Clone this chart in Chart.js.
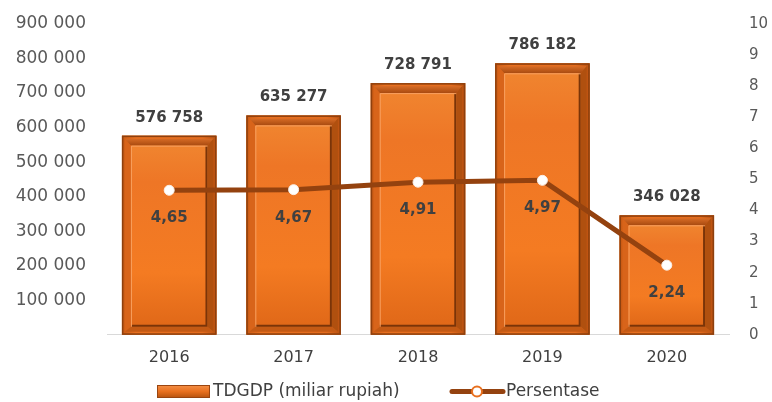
<!DOCTYPE html>
<html><head><meta charset="utf-8">
<script src="https://cdn.jsdelivr.net/npm/chart.js@4/dist/chart.umd.min.js"></script>
<style>html,body{margin:0;padding:0;background:#fff}#wrap{width:772px;height:402px}</style>
</head><body><div id="wrap"><canvas id="c" width="772" height="402"></canvas></div>
<script>
const categories = ['2016','2017','2018','2019','2020'];
const tdgdpValues = [576758, 635277, 728791, 786182, 346028];
const pctValues = [4.65, 4.67, 4.91, 4.97, 2.24];
const leftTicks = [0,100000,200000,300000,400000,500000,600000,700000,800000,900000];
const rightTicks = [0,1,2,3,4,5,6,7,8,9,10];
const seriesNames = ['TDGDP (miliar rupiah)', 'Persentase'];

const FONT = 'DejaVu Sans';
const fmtThousands = v => String(v).replace(/\B(?=(\d{3})+(?!\d))/g, ' ');
const fmtPct = v => v.toFixed(2).replace('.', ',');

const bevelPlugin = {
  id: 'bevel',
  afterDatasetDraw(chart, args){
    if (args.index !== 0) return;
    const ctx = chart.ctx;
    args.meta.data.forEach(el => {
      const w = el.width, l = el.x - w/2, r = el.x + w/2, t = el.y, b = el.base;
      ctx.save();
      let g = ctx.createLinearGradient(l,0,r,0);
      g.addColorStop(0,'#C95A14'); g.addColorStop(0.15,'#E87020'); g.addColorStop(0.85,'#E46C1E'); g.addColorStop(1,'#B85010');
      ctx.fillStyle = g; ctx.fillRect(l,t,w,b-t);
      const il = l+9, ir = r-9, it = t+10, ib = b-8;
      let tg = ctx.createLinearGradient(0,t,0,it);
      tg.addColorStop(0,'#EC7A2E'); tg.addColorStop(1,'#A84A10');
      ctx.fillStyle = tg;
      ctx.beginPath(); ctx.moveTo(l+3,t+3); ctx.lineTo(r-3,t+3); ctx.lineTo(ir,it); ctx.lineTo(il,it); ctx.closePath(); ctx.fill();
      ctx.fillStyle = '#D8641A';
      ctx.beginPath(); ctx.moveTo(l+3,t+3); ctx.lineTo(il,it); ctx.lineTo(il,ib); ctx.lineTo(l+3,b-3); ctx.closePath(); ctx.fill();
      ctx.fillStyle = '#B0500F';
      ctx.beginPath(); ctx.moveTo(r-3,t+3); ctx.lineTo(ir,it); ctx.lineTo(ir,ib); ctx.lineTo(r-3,b-3); ctx.closePath(); ctx.fill();
      ctx.fillStyle = '#C45A14';
      ctx.beginPath(); ctx.moveTo(l+3,b-3); ctx.lineTo(il,ib); ctx.lineTo(ir,ib); ctx.lineTo(r-3,b-3); ctx.closePath(); ctx.fill();
      let fg = ctx.createLinearGradient(0,it,0,ib);
      fg.addColorStop(0,'#F0842F'); fg.addColorStop(0.2,'#EE7626'); fg.addColorStop(0.7,'#F47B22'); fg.addColorStop(1,'#E06818');
      ctx.fillStyle = fg; ctx.fillRect(il,it,ir-il,ib-it);
      ctx.strokeStyle = '#7A3408'; ctx.lineWidth = 2;
      ctx.beginPath(); ctx.moveTo(ir-1,it); ctx.lineTo(ir-1,ib-1); ctx.lineTo(il,ib-1); ctx.stroke();
      ctx.strokeStyle = '#F8A060'; ctx.lineWidth = 1;
      ctx.beginPath(); ctx.moveTo(il+0.5,ib); ctx.lineTo(il+0.5,it+0.5); ctx.lineTo(ir,it+0.5); ctx.stroke();
      ctx.strokeStyle = '#8E400E'; ctx.lineWidth = 1.5;
      ctx.strokeRect(l+0.75,t+0.75,w-1.5,b-t-1.5);
      ctx.restore();
    });
  }
};

const labelPlugin = {
  id: 'vlabels',
  afterDatasetsDraw(chart){
    const ctx = chart.ctx;
    ctx.save();
    ctx.font = 'bold 15px "' + FONT + '"';
    ctx.fillStyle = '#404040';
    ctx.textAlign = 'center'; ctx.textBaseline = 'middle';
    chart.getDatasetMeta(0).data.forEach((el,i) => {
      ctx.fillText(fmtThousands(tdgdpValues[i]), el.x, el.y - 18);
    });
    chart.getDatasetMeta(1).data.forEach((el,i) => {
      ctx.fillText(fmtPct(pctValues[i]), el.x, el.y + 28);
    });
    ctx.restore();
  }
};

const legendPlugin = {
  id: 'customLegend',
  afterDraw(chart){
    const ctx = chart.ctx;
    const y = 391.5;
    ctx.save();
    const bx = 157, bw = 53, bh = 13;
    const g = ctx.createLinearGradient(0,y-bh/2,0,y+bh/2);
    g.addColorStop(0,'#F49048'); g.addColorStop(0.5,'#E8701F'); g.addColorStop(1,'#B4520F');
    ctx.fillStyle = g; ctx.fillRect(bx, y-bh/2, bw, bh);
    ctx.strokeStyle = '#9A4510'; ctx.lineWidth = 1; ctx.strokeRect(bx+0.5, y-bh/2+0.5, bw-1, bh-1);
    ctx.font = '17px "' + FONT + '"';
    ctx.fillStyle = '#404040'; ctx.textAlign = 'left'; ctx.textBaseline = 'middle';
    ctx.fillText(chart.data.datasets[0].label, 213, y);
    ctx.strokeStyle = '#94420F'; ctx.lineWidth = 5; ctx.lineCap = 'round';
    ctx.beginPath(); ctx.moveTo(452, y); ctx.lineTo(503, y); ctx.stroke();
    ctx.fillStyle = '#fff'; ctx.strokeStyle = '#E8701F'; ctx.lineWidth = 2;
    ctx.beginPath(); ctx.arc(477, y, 5, 0, Math.PI*2); ctx.fill(); ctx.stroke();
    ctx.fillStyle = '#404040';
    ctx.fillText(chart.data.datasets[1].label, 506, y);
    ctx.restore();
  }
};

new Chart(document.getElementById('c'), {
  data: {
    labels: categories,
    datasets: [
      { type:'bar', label: seriesNames[0], data: tdgdpValues, yAxisID:'y',
        backgroundColor:'#E8701F', borderWidth:0, categoryPercentage:0.76, barPercentage:1, order:2 },
      { type:'line', label: seriesNames[1], data: pctValues, yAxisID:'y1',
        borderColor:'#94420F', borderWidth:5, pointStyle:'circle', pointRadius:5, pointBackgroundColor:'#FFFFFF',
        pointBorderColor:'#FBEFE6', pointBorderWidth:1, tension:0, order:1 }
    ]
  },
  options: {
    responsive:false, animation:false,
    layout:{ padding:{ top:24, bottom:22, left:0, right:0 } },
    plugins:{ legend:{ display:false }, tooltip:{ enabled:false } },
    scales:{
      x:{ grid:{ display:false, drawTicks:false }, border:{ display:true, color:'#D9D9D9', width:1 },
        ticks:{ color:'#404040', font:{ family:FONT, size:16 }, padding:13 } },
      y:{ position:'left', min:0, max:900000, afterBuildTicks(s){ s.ticks = leftTicks.map(v=>({value:v})); },
        grid:{ display:false }, border:{ display:false },
        ticks:{ color:'#595959', font:{ family:FONT, size:17 }, padding:13,
          callback:v => v === 0 ? '' : fmtThousands(v) },
        afterFit(s){ s.width = 107; } },
      y1:{ position:'right', min:0, max:10, afterBuildTicks(s){ s.ticks = rightTicks.map(v=>({value:v})); },
        grid:{ display:false }, border:{ display:false },
        ticks:{ color:'#595959', font:{ family:FONT, size:15 }, padding:12 },
        afterFit(s){ s.width = 43; } }
    }
  },
  plugins:[bevelPlugin, labelPlugin, legendPlugin]
});
</script></body></html>
